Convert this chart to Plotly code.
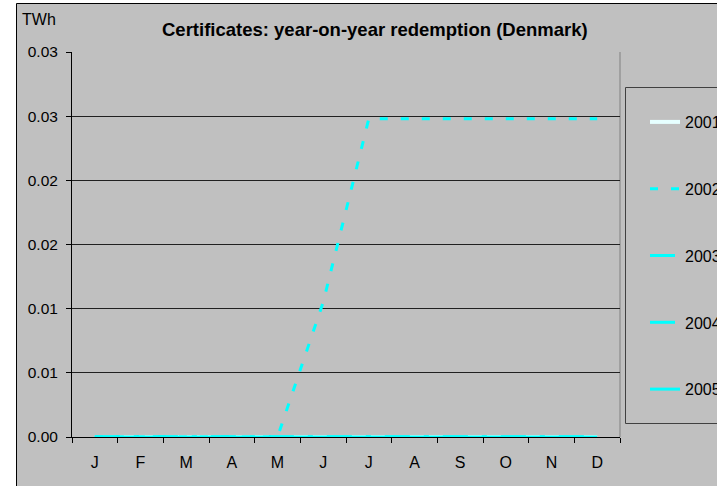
import plotly.graph_objects as go

months = ["J", "F", "M", "A", "M ", "J ", "J  ", "A ", "S", "O", "N", "D"]
month_labels = ["J", "F", "M", "A", "M", "J", "J", "A", "S", "O", "N", "D"]
series_names = ["2001", "2002", "2003", "2004", "2005"]
s2001 = [0, 0, 0, 0, 0, 0, 0, 0, 0, 0, 0, 0]
s2002 = [0, 0, 0, 0, 0, 0.0105, 0.0248, 0.0248, 0.0248, 0.0248, 0.0248, 0.0248]
s2003 = [0, 0, 0, 0, 0, 0, 0, 0, 0, 0, 0, 0]
s2004 = [0, 0, 0, 0, 0, 0, 0, 0, 0, 0, 0, 0]
s2005 = [0, 0, 0, 0, 0, 0, 0, 0, 0, 0, 0, 0]
y_tickvals = [0, 0.005, 0.01, 0.015, 0.02, 0.025, 0.03]
y_ticktext = ["0.00", "0.01", "0.01", "0.02", "0.02", "0.03", "0.03"]

FONT = "Liberation Sans, Arial, sans-serif"
GRAY = "#C0C0C0"
W, H = 717, 486
L, R, T, B = 72, 97, 52, 49
PW, PH = W - L - R, H - T - B


def px_x(p):
    return (p - L) / PW


def px_y(p):
    return (H - B - p) / PH


styles = [
    dict(color="#E6FFFF", width=4, dash="solid"),
    dict(color="#00FFFF", width=3, dash="8px,13px"),
    dict(color="#00FFFF", width=3, dash="25px,14px,5px,14px"),
    dict(color="#00FFFF", width=3, dash="25px,14px,5px,14px"),
    dict(color="#00FFFF", width=3, dash="solid"),
]
data = [s2001, s2002, s2003, s2004, s2005]

fig = go.Figure()
for i, (name, vals, st) in enumerate(zip(series_names, data, styles)):
    fig.add_trace(go.Scatter(
        x=months, y=vals, name=name, mode="lines", line=st,
        legendgroup=name, showlegend=True,
    ))

fig.update_layout(
    width=W, height=H,
    margin=dict(l=L, r=R, t=T, b=B, autoexpand=False),
    paper_bgcolor="white",
    plot_bgcolor=GRAY,
    font=dict(family=FONT, size=16, color="black"),
    showlegend=True,
    legend=dict(
        x=px_x(645), y=px_y(105), xanchor="left", yanchor="top",
        bgcolor="rgba(0,0,0,0)", borderwidth=0,
        tracegroupgap=43, font=dict(family=FONT, size=16, color="black"),
        traceorder="grouped",
    ),
    xaxis=dict(
        type="category", tickmode="array", tickvals=months, ticktext=month_labels,
        tickson="boundaries", ticks="outside", ticklen=5, tickcolor="black",
        showline=True, linecolor="black", linewidth=1,
        showgrid=False, zeroline=False, ticklabelstandoff=11,
        tickfont=dict(size=16), range=[-0.5, 11.5],
    ),
    yaxis=dict(
        range=[0, 0.03], tickmode="array", tickvals=y_tickvals, ticktext=y_ticktext,
        ticks="outside", ticklen=5, tickcolor="black",
        showline=True, linecolor="black", linewidth=1,
        showgrid=True, gridcolor="#202020", gridwidth=1, zeroline=False,
        ticklabelstandoff=5, tickfont=dict(size=15.5),
    ),
    shapes=[
        dict(type="rect", xref="paper", yref="paper", layer="below",
             x0=px_x(16.5), x1=px_x(740), y0=px_y(495), y1=px_y(3.5),
             line=dict(color="black", width=1), fillcolor=GRAY),
        dict(type="rect", xref="paper", yref="paper", layer="above",
             x0=px_x(625.5), x1=px_x(760), y0=px_y(423.5), y1=px_y(87.5),
             line=dict(color="#404040", width=1), fillcolor="rgba(0,0,0,0)"),
        dict(type="line", xref="paper", yref="paper", layer="below",
             x0=1, x1=1, y0=0, y1=1, line=dict(color="#808080", width=1)),
    ],
    annotations=[
        dict(text="<b>Certificates: year-on-year redemption (Denmark)</b>",
             xref="paper", yref="paper", x=px_x(375), y=px_y(29),
             xanchor="center", yanchor="middle", showarrow=False,
             font=dict(family=FONT, size=18.5, color="black")),
        dict(text="TWh", xref="paper", yref="paper", x=px_x(20), y=px_y(20),
             xanchor="left", yanchor="middle", showarrow=False,
             font=dict(family=FONT, size=16, color="black")),
    ],
)

fig.write_html("out.html", config={"displayModeBar": False},
               post_script="document.body.style.margin='0';")
